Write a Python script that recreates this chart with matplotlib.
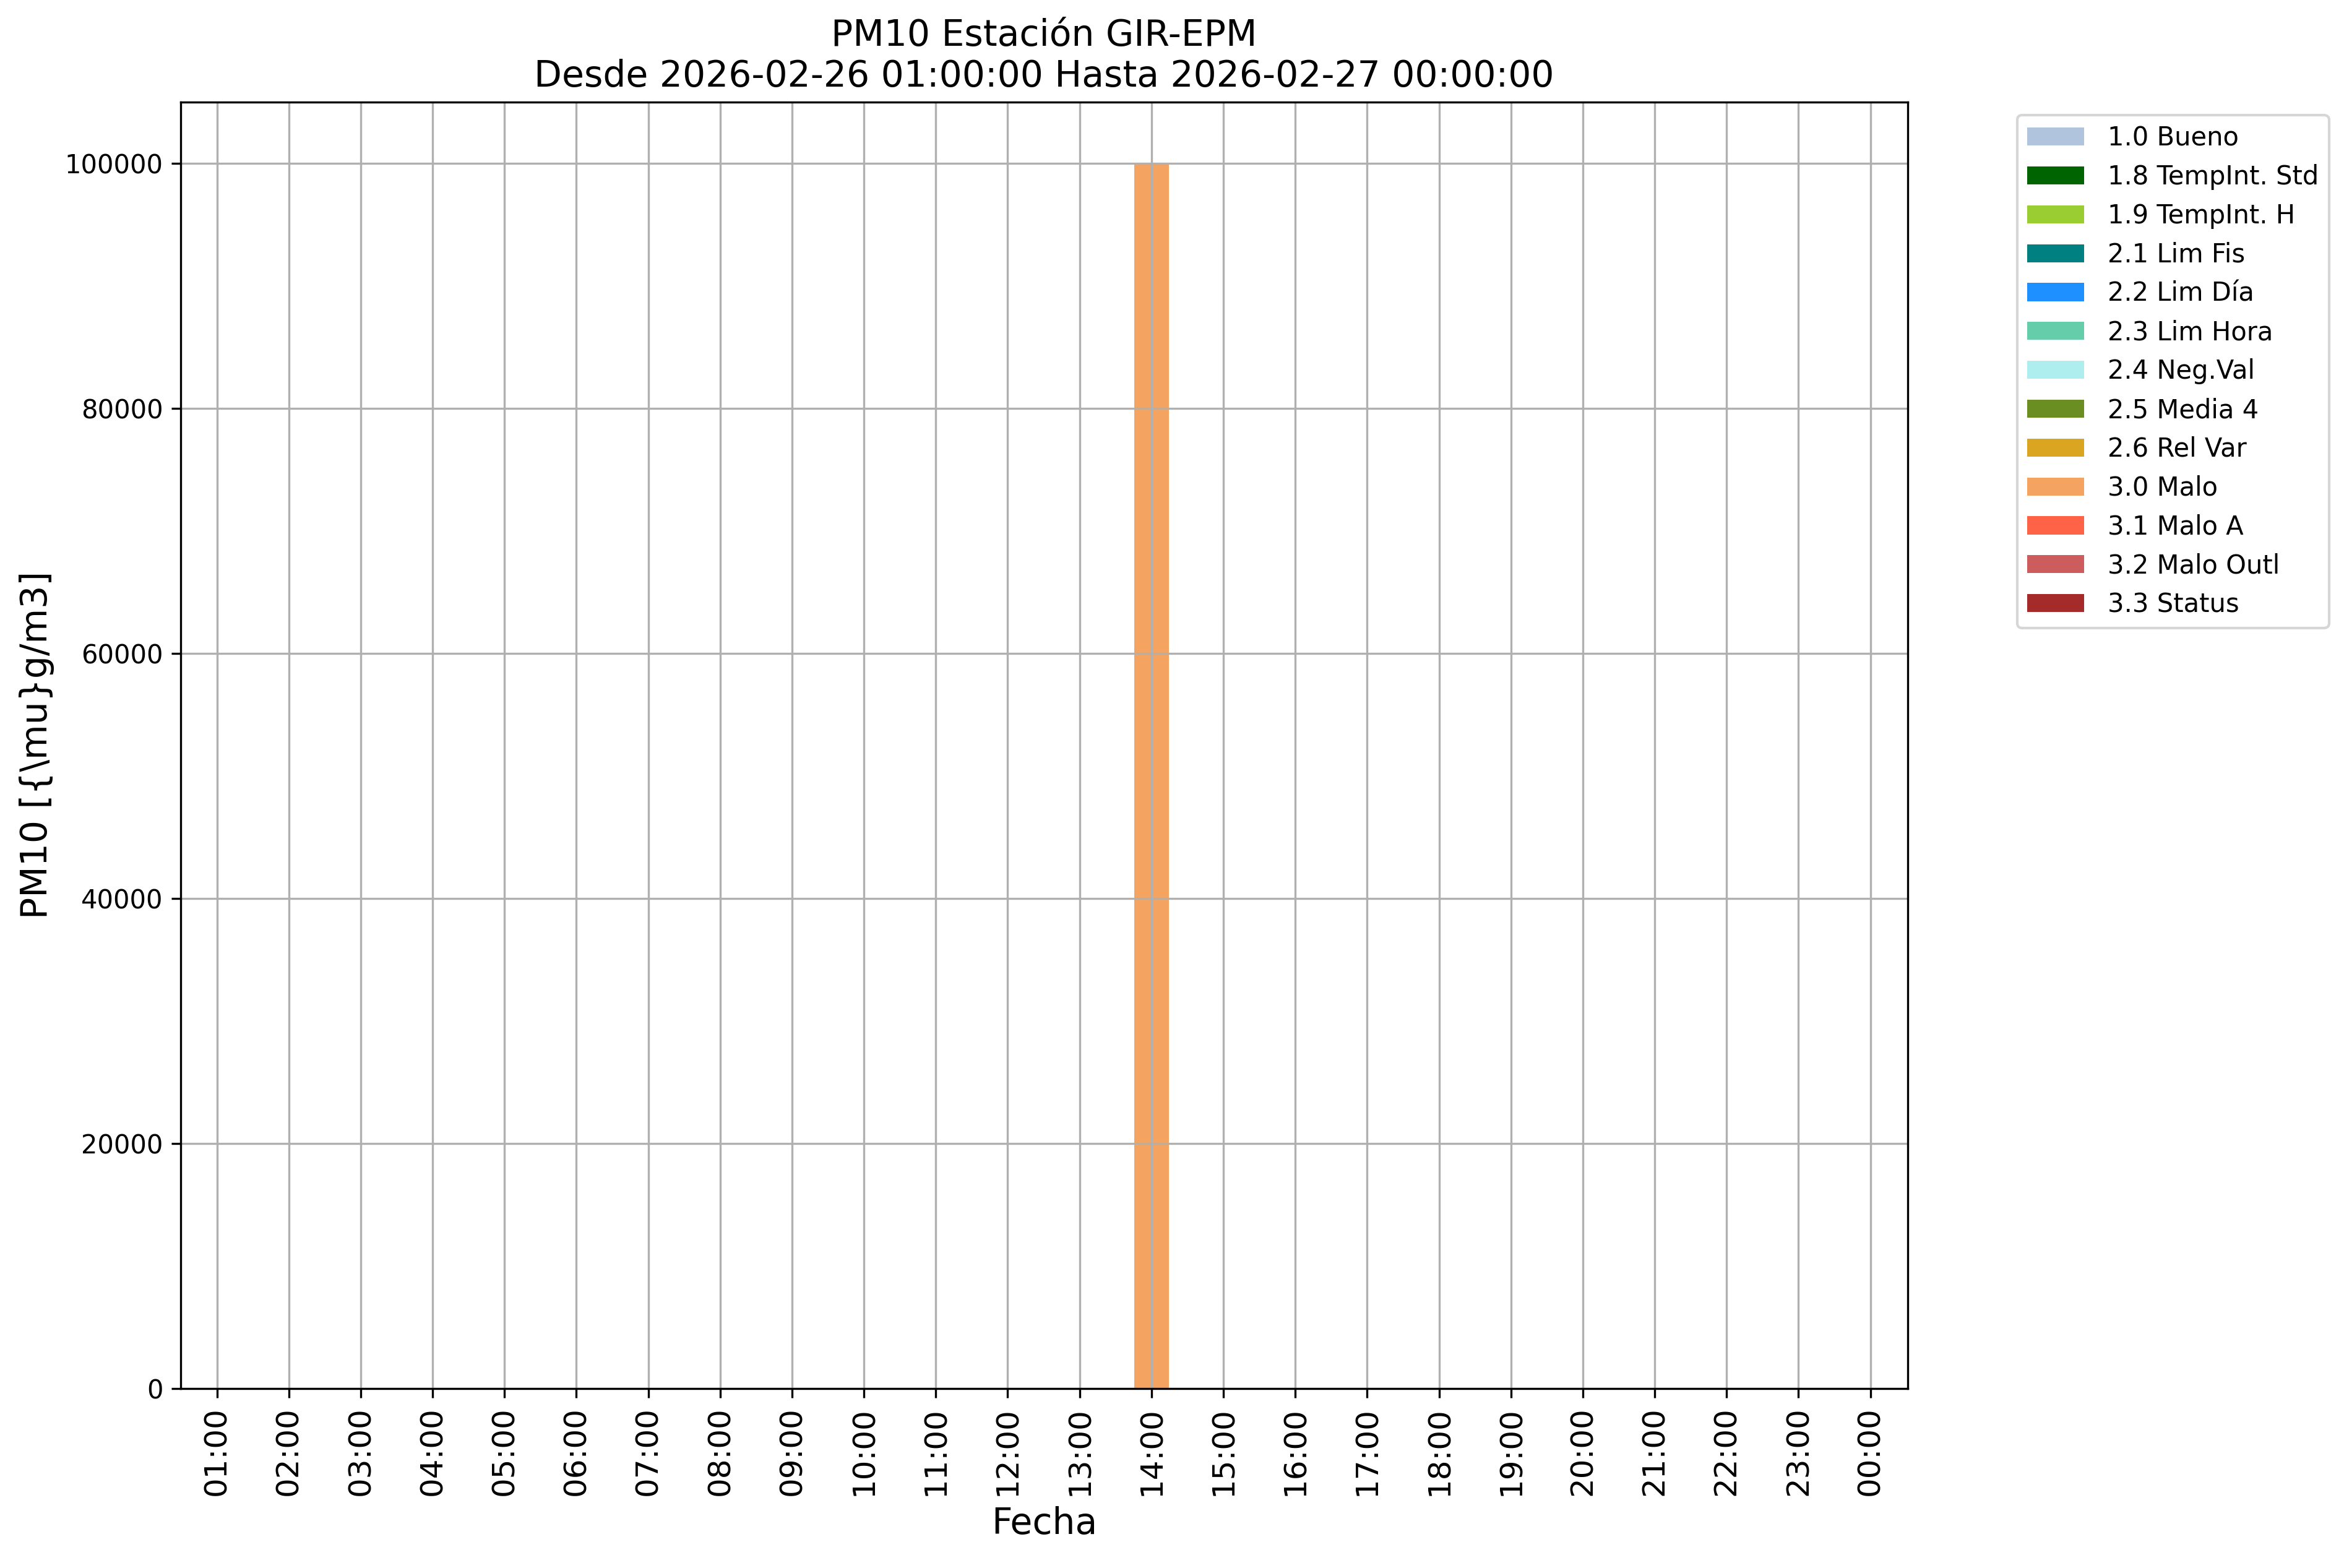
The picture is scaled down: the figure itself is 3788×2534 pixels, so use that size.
import matplotlib
matplotlib.use("Agg")
import matplotlib.pyplot as plt
import matplotlib.dates as mdates
import numpy as np
import pandas as pd

# ---- data ----
timestamps = ["2026-02-26 01:00", "2026-02-26 02:00", "2026-02-26 03:00", "2026-02-26 04:00",
              "2026-02-26 05:00", "2026-02-26 06:00", "2026-02-26 07:00", "2026-02-26 08:00",
              "2026-02-26 09:00", "2026-02-26 10:00", "2026-02-26 11:00", "2026-02-26 12:00",
              "2026-02-26 13:00", "2026-02-26 14:00", "2026-02-26 15:00", "2026-02-26 16:00",
              "2026-02-26 17:00", "2026-02-26 18:00", "2026-02-26 19:00", "2026-02-26 20:00",
              "2026-02-26 21:00", "2026-02-26 22:00", "2026-02-26 23:00", "2026-02-27 00:00"]
pm10_values = [np.nan] * 13 + [100000] + [np.nan] * 10
flag_values = [np.nan] * 13 + [3.0] + [np.nan] * 10

flag_codes = [1.0, 1.8, 1.9, 2.1, 2.2, 2.3, 2.4, 2.5, 2.6, 3.0, 3.1, 3.2, 3.3]
flag_labels = ["1.0 Bueno", "1.8 TempInt. Std", "1.9 TempInt. H", "2.1 Lim Fis",
               "2.2 Lim Día", "2.3 Lim Hora", "2.4 Neg.Val", "2.5 Media 4",
               "2.6 Rel Var", "3.0 Malo", "3.1 Malo A", "3.2 Malo Outl", "3.3 Status"]
flag_colors = ["lightsteelblue", "darkgreen", "yellowgreen", "teal", "dodgerblue",
               "mediumaquamarine", "paleturquoise", "olivedrab", "goldenrod",
               "sandybrown", "tomato", "indianred", "brown"]

title = "PM10 Estación GIR-EPM\nDesde 2026-02-26 01:00:00 Hasta 2026-02-27 00:00:00"

# ---- plot ----
times = pd.to_datetime(timestamps)
vals = np.array(pm10_values, dtype=float)
flags = np.array(flag_values, dtype=float)

fig = plt.figure(figsize=(3788 / 300, 2534 / 300), dpi=300)
ax = fig.add_axes([0.0772, 0.1144, 0.7366, 0.8206])

for code, lab, col in zip(flag_codes, flag_labels, flag_colors):
    h = np.where(np.isclose(flags, code), vals, 0.0)
    h = np.nan_to_num(h)
    ax.bar(times, h, width=0.02, color=col, label=lab)

ax.grid(True, color="#b0b0b0", linewidth=0.8)
ax.set_xlim(times[0] - pd.Timedelta(minutes=30), times[-1] + pd.Timedelta(minutes=31))
ax.set_ylim(0, 105000)
ax.set_xticks(times)
ax.xaxis.set_major_formatter(mdates.DateFormatter("%H:%M"))
plt.setp(ax.get_xticklabels(), rotation=90, fontsize=12)
ax.tick_params(axis="y", labelsize=10)
ax.set_xlabel("Fecha", fontsize=14)
ax.set_ylabel(r"PM10 [{\mu}g/m3]", fontsize=14)
ax.set_title(title, fontsize=14)
leg = ax.legend(bbox_to_anchor=(1.056, 1), loc="upper left", fontsize=10,
                handlelength=2.2, handletextpad=0.9)

fig.savefig("out.png", dpi=300)
